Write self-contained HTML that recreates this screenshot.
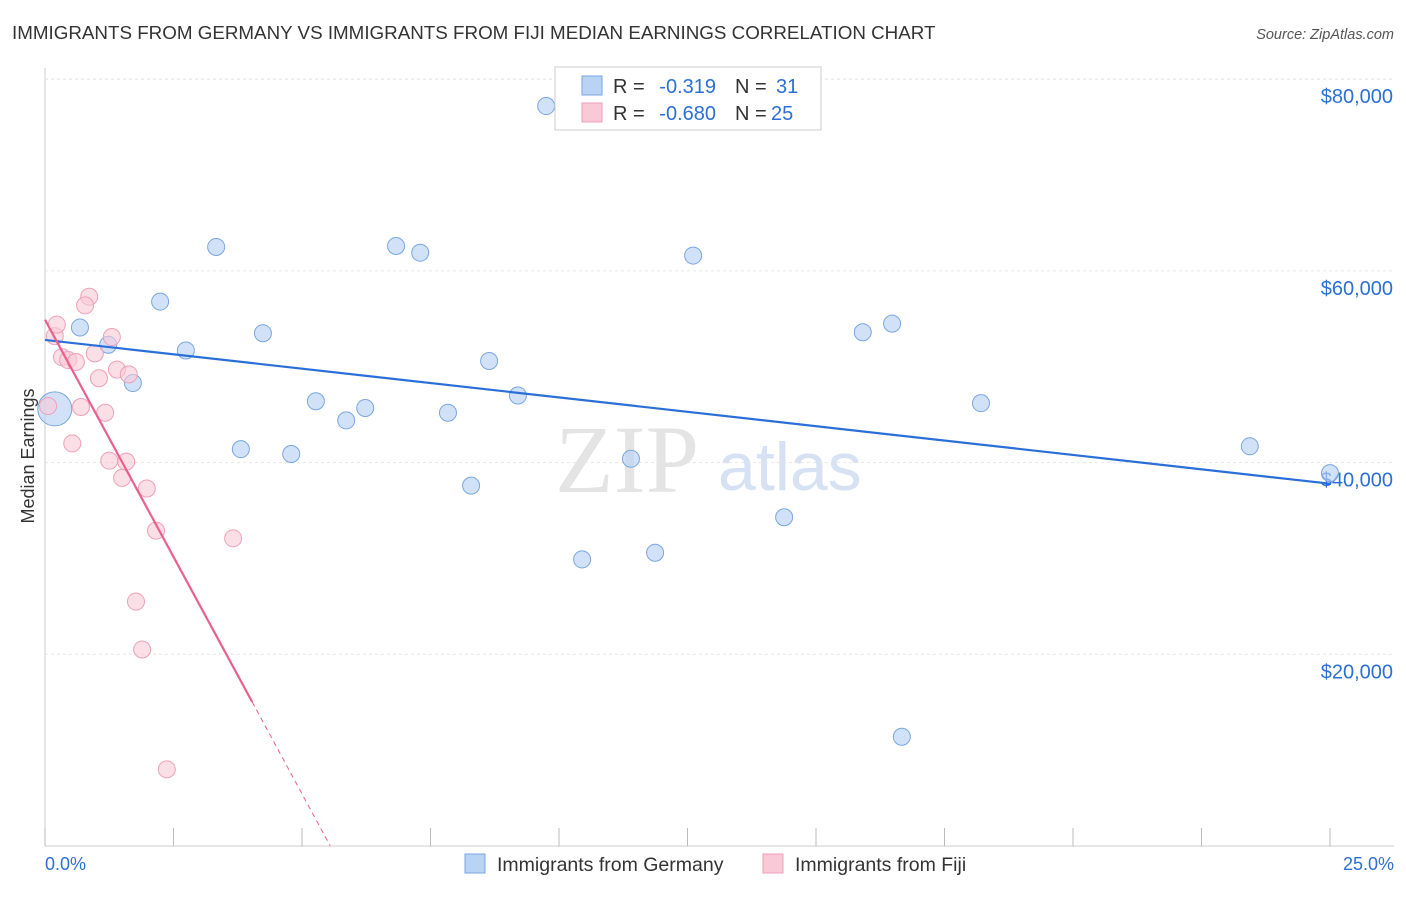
<!DOCTYPE html>
<html><head><meta charset="utf-8"><style>
body{margin:0;background:#fff;font-family:"Liberation Sans",sans-serif}
</style></head><body>
<svg width="1406" height="892" id="c" font-family="Liberation Sans, sans-serif">
<text x="12" y="39" font-size="18.8" fill="#333">IMMIGRANTS FROM GERMANY VS IMMIGRANTS FROM FIJI MEDIAN EARNINGS CORRELATION CHART</text>
<text x="1394" y="39" font-size="14.5" fill="#555" text-anchor="end" font-style="italic">Source: ZipAtlas.com</text>
<text transform="translate(34,456) rotate(-90)" font-size="18" fill="#333" text-anchor="middle">Median Earnings</text>
<text x="555" y="492" font-size="96" fill="#e4e4e4" font-family="Liberation Serif, serif">ZIP</text>
<text x="718" y="490" font-size="68" fill="#d6e2f3">atlas</text>
<g id="grid"></g><g id="marks"></g>
<g>
<rect x="555" y="67" width="266" height="63" fill="#fff" stroke="#ccc"/>
<rect x="582" y="76" width="20" height="19" fill="#b9d3f5" stroke="#7aa6e0"/>
<rect x="582" y="103" width="20" height="19" fill="#f9c9d7" stroke="#eea0b8"/>
<text x="613" y="93" font-size="20" fill="#333">R =</text>
<text x="716" y="93" font-size="20" fill="#2c6fd6" text-anchor="end">-0.319</text>
<text x="735" y="93" font-size="20" fill="#333">N =</text>
<text x="776" y="93" font-size="20" fill="#2c6fd6">31</text>
<text x="613" y="120" font-size="20" fill="#333">R =</text>
<text x="716" y="120" font-size="20" fill="#2c6fd6" text-anchor="end">-0.680</text>
<text x="735" y="120" font-size="20" fill="#333">N =</text>
<text x="771" y="120" font-size="20" fill="#2c6fd6">25</text>
</g>
<g>
<rect x="465" y="854" width="20" height="19" fill="#b9d3f5" stroke="#7aa6e0"/>
<text x="497" y="871" font-size="19.5" fill="#333">Immigrants from Germany</text>
<rect x="763" y="854" width="20" height="19" fill="#f9c9d7" stroke="#eea0b8"/>
<text x="795" y="871" font-size="19.5" fill="#333">Immigrants from Fiji</text>
</g>
<text x="45" y="870" font-size="18" fill="#2c6fd6">0.0%</text>
<text x="1394" y="870" font-size="18" fill="#2c6fd6" text-anchor="end">25.0%</text>
</svg>
<script>
const yTicks=[20000,40000,60000,80000];
const yTickLabels=["$20,000","$40,000","$60,000","$80,000"];
const germanyX=[9.75,3.33,6.83,7.30,12.61,2.24,0.68,4.24,1.23,2.74,15.91,16.48,8.64,1.71,9.20,5.27,5.86,6.23,7.84,18.21,3.81,4.79,11.40,23.44,25.0,8.29,14.38,10.45,11.87,16.67,0.19];
const germanyY=[77200,62500,62600,61900,61600,56800,54100,53500,52300,51700,53600,54500,50600,48300,47000,46400,44400,45700,45200,46200,41400,40900,40400,41700,38900,37600,34300,29900,30600,11400,45600];
const fijiX=[0.06,0.19,0.23,0.86,0.78,0.33,0.45,0.60,0.97,1.30,1.05,1.40,1.63,0.70,1.17,0.53,1.25,1.58,1.50,1.98,2.16,3.66,1.77,1.89,2.37];
const fijiY=[45900,53200,54400,57300,56400,51000,50700,50500,51400,53100,48800,49700,49200,45800,45200,42000,40200,40100,38400,37300,32900,32100,25500,20500,8000];
const germanyTrend=[52800,37800];
const fijiTrend=[54900,0];
const fijiSolidEnd=4.03;
const NS="http://www.w3.org/2000/svg";
const xs=v=>45+v*51.4, ys=v=>846-v*191.7/20000;
const grid=document.getElementById('grid'),marks=document.getElementById('marks');
function mk(p,tag,a){const e=document.createElementNS(NS,tag);for(const k in a)e.setAttribute(k,a[k]);p.appendChild(e);return e;}
let l=mk(grid,'line',{x1:45,x2:45,y1:68,y2:846,stroke:'#ccc'});


l=mk(grid,'line',{x1:45,x2:1394,y1:846,y2:846,stroke:'#ccc'});


for(let i=0;i<=10;i++){const t=mk(grid,'line',{x1:xs(i*2.5),x2:xs(i*2.5),y1:828,y2:846,stroke:'#bbb'});

}
mk(grid,'line',{x1:45,x2:1394,y1:79,y2:79,stroke:'#e6e6e6','stroke-dasharray':'3,3'});
yTicks.forEach((v,i)=>{const g=mk(grid,'line',{x1:45,x2:1394,y1:ys(v),y2:ys(v),stroke:'#e6e6e6','stroke-dasharray':'3,3'});


const t=mk(grid,'text',{x:1393,y:ys(v)+24,'font-size':20,fill:'#2c6fd6','text-anchor':'end'});t.textContent=yTickLabels[i];

});
germanyX.forEach((x,i)=>{const c=mk(marks,'circle',{cx:xs(x),cy:ys(germanyY[i]),r:i==30?17:8.5,fill:'#b9d3f5','fill-opacity':0.65,stroke:'#7aa6e0'});

});
fijiX.forEach((x,i)=>{const c=mk(marks,'circle',{cx:xs(x),cy:ys(fijiY[i]),r:8.5,fill:'#f9c9d7','fill-opacity':0.6,stroke:'#eea0b8'});

});
let t=mk(marks,'line',{x1:xs(0),y1:ys(germanyTrend[0]),x2:xs(25),y2:ys(germanyTrend[1]),stroke:'#2a6fd8','stroke-width':2.2});


const slope=(fijiTrend[1]-fijiTrend[0])/5.55, fy=x=>fijiTrend[0]+slope*x;
t=mk(marks,'line',{x1:xs(0),y1:ys(fy(0)),x2:xs(fijiSolidEnd),y2:ys(fy(fijiSolidEnd)),stroke:'#e8608e','stroke-width':2.2});


t=mk(marks,'line',{x1:xs(fijiSolidEnd),y1:ys(fy(fijiSolidEnd)),x2:xs(5.55),y2:ys(fy(5.55)),stroke:'#e8608e','stroke-width':1,'stroke-dasharray':'5,4'});


</script>
</body></html>
